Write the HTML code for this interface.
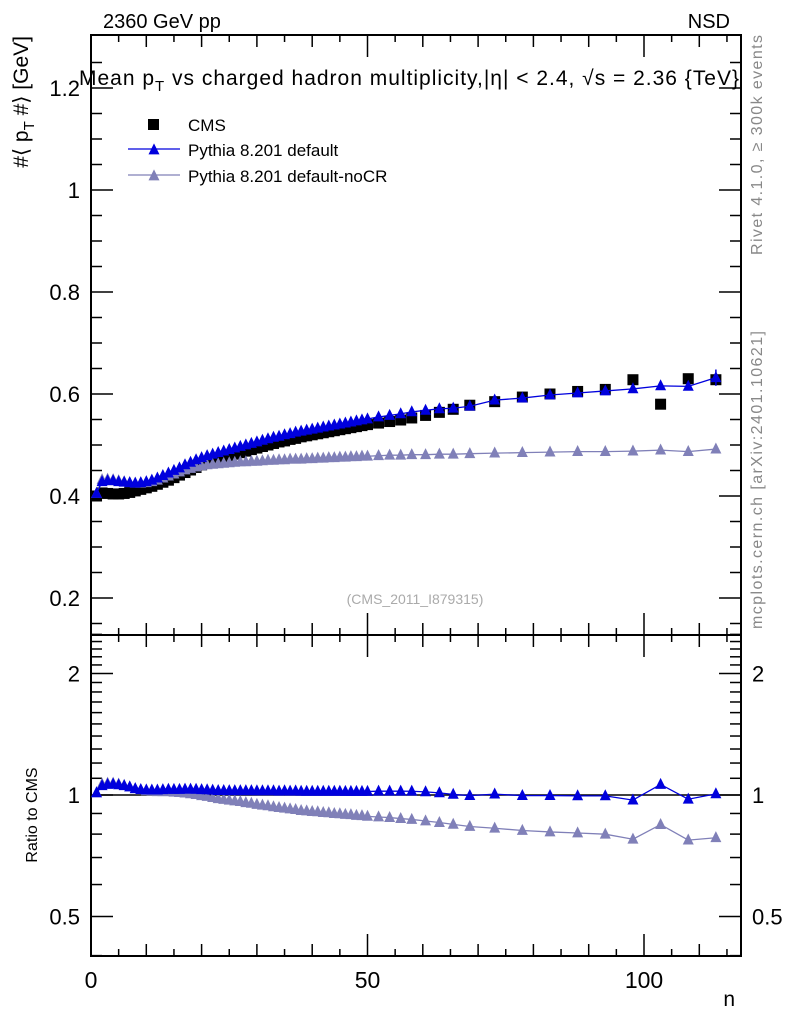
<!DOCTYPE html>
<html><head><meta charset="utf-8"><style>
body{margin:0;background:#fff;}
svg{display:block;font-family:"Liberation Sans",sans-serif;}
</style></head><body>
<svg id="c" width="786" height="1024" viewBox="0 0 786 1024"></svg>
<script>
const nVals=[1,2,3,4,5,6,7,8,9,10,11,12,13,14,15,16,17,18,19,20,21,22,23,24,25,26,27,28,29,30,31,32,33,34,35,36,37,38,39,40,41,42,43,44,45,46,47,48,49,50,52,54,56,58,60.5,63,65.5,68.5,73,78,83,88,93,98,103,108,113];
const cmsVals=[0.400,0.406,0.405,0.404,0.404,0.405,0.407,0.410,0.413,0.416,0.419,0.423,0.427,0.431,0.436,0.441,0.446,0.451,0.456,0.461,0.465,0.469,0.473,0.476,0.479,0.482,0.485,0.488,0.491,0.494,0.497,0.500,0.503,0.506,0.508,0.511,0.513,0.516,0.518,0.520,0.522,0.524,0.526,0.528,0.530,0.532,0.534,0.536,0.538,0.540,0.543,0.546,0.549,0.553,0.558,0.564,0.570,0.578,0.585,0.594,0.600,0.605,0.609,0.628,0.580,0.630,0.628];
const defVals=[0.405,0.428,0.430,0.430,0.428,0.427,0.426,0.425,0.426,0.428,0.431,0.435,0.440,0.445,0.450,0.455,0.461,0.466,0.471,0.475,0.479,0.482,0.485,0.488,0.491,0.494,0.497,0.500,0.503,0.506,0.509,0.512,0.515,0.517,0.520,0.522,0.525,0.527,0.529,0.531,0.533,0.535,0.537,0.539,0.541,0.543,0.545,0.547,0.549,0.551,0.555,0.558,0.561,0.565,0.568,0.571,0.572,0.576,0.588,0.592,0.598,0.602,0.606,0.610,0.616,0.615,0.632];
const nocrVals=[0.405,0.432,0.433,0.432,0.430,0.428,0.426,0.425,0.425,0.426,0.428,0.431,0.435,0.439,0.443,0.447,0.451,0.454,0.457,0.459,0.461,0.462,0.463,0.464,0.465,0.466,0.467,0.467,0.468,0.468,0.469,0.470,0.470,0.471,0.471,0.472,0.472,0.472,0.473,0.473,0.474,0.474,0.475,0.475,0.476,0.476,0.477,0.477,0.478,0.478,0.479,0.480,0.480,0.481,0.481,0.482,0.482,0.483,0.484,0.485,0.486,0.487,0.487,0.488,0.490,0.487,0.492];
const xTicks=[0,50,100];
const yTicks=[0.2,0.4,0.6,0.8,1,1.2];
const rTicks=[0.5,1,2];

const svg=document.getElementById('c');
const NS='http://www.w3.org/2000/svg';
const L=91,R=741,T=35,MB=635,RB=956;
const X=v=>L+v*5.53;
const Y=v=>496-(v-0.4)*510;
const YR=r=>795-Math.log2(r)*121.5;
function mk(t,a,p){const e=document.createElementNS(NS,t);for(const k in a)e.setAttribute(k,a[k]);(p||svg).appendChild(e);return e;}
function txt(s,x,y,sz,anchor,fill,extra){const e=mk('text',Object.assign({x:x,y:y,'font-size':sz,'text-anchor':anchor||'start',fill:fill||'#000'},extra||{}));e.textContent=s;return e;}

const f1=mk('rect',{x:L,y:T,width:R-L,height:MB-T,fill:'none',stroke:'#000','stroke-width':2});

const f2=mk('rect',{x:L,y:MB,width:R-L,height:RB-MB,fill:'none',stroke:'#000','stroke-width':2});


for(let v=0;v<=115;v+=5){const len=(v%50===0)?22:(v%10===0?12:7);const x=X(v);
 for(const [top,bot] of [[T,MB],[MB,RB]]){mk('line',{x1:x,y1:bot,x2:x,y2:bot-len,stroke:'#000','stroke-width':1.5});mk('line',{x1:x,y1:top,x2:x,y2:top+len,stroke:'#000','stroke-width':1.5});}}
xTicks.forEach(v=>{const e=txt(String(v),X(v),988,23,'middle');});
txt('n',735,1006,21,'end');

for(let v=0.15;v<=1.3;v+=0.05){const vv=Math.round(v*100)/100;const y=Y(vv);const maj=Math.abs(vv*5-Math.round(vv*5))<1e-6;const len=maj?22:11;
 mk('line',{x1:L,y1:y,x2:L+len,y2:y,stroke:'#000','stroke-width':1.5});mk('line',{x1:R,y1:y,x2:R-len,y2:y,stroke:'#000','stroke-width':1.5});}
yTicks.forEach(v=>{const e=txt(String(v),80,Y(v)+8,22,'end');});

[0.4,0.5,0.6,0.7,0.8,0.9,1,1.1,1.2,1.3,1.4,1.5,1.6,1.7,1.8,1.9,2,2.1,2.2,2.3,2.4,2.5].forEach(r=>{const y=YR(r);const maj=rTicks.includes(r);const len=maj?22:11;
 mk('line',{x1:L,y1:y,x2:L+len,y2:y,stroke:'#000','stroke-width':1.5});mk('line',{x1:R,y1:y,x2:R-len,y2:y,stroke:'#000','stroke-width':1.5});});
rTicks.forEach(r=>{const s=r===0.5?'0.5':String(r);txt(s,80,YR(r)+8,22,'end');txt(s,752,YR(r)+8,22,'start');});
mk('line',{x1:L,y1:YR(1),x2:R,y2:YR(1),stroke:'#000','stroke-width':1.5});

txt('2360 GeV pp',103,28,20);
txt('NSD',730,28,20,'end');
const ti=mk('text',{x:79,y:85,'font-size':21,textLength:660,lengthAdjust:'spacing'});ti.innerHTML='Mean p<tspan dy="6" font-size="15">T</tspan><tspan dy="-6"> vs charged hadron multiplicity,</tspan>|η| &lt; 2.4, √s = 2.36 {TeV}';

const yl=mk('text',{x:0,y:0,'font-size':21,'text-anchor':'end',transform:'translate(28,36) rotate(-90)'});yl.innerHTML='#⟨ p<tspan dy="6" font-size="15">T</tspan><tspan dy="-6"> #⟩ [GeV]</tspan>';

txt('Ratio to CMS',0,0,16,'middle','#000',{transform:'translate(37,815) rotate(-90)'});
txt('Rivet 4.1.0, ≥ 300k events',0,0,16,'middle','#888',{transform:'translate(762,145) rotate(-90)',textLength:220});
txt('mcplots.cern.ch [arXiv:2401.10621]',0,0,16,'middle','#888',{transform:'translate(762,480) rotate(-90)',textLength:298});
txt('(CMS_2011_I879315)',415,604,14,'middle','#aaa');

function tri(x,y,s,col,g){mk('polygon',{points:`${x},${y-s*0.6} ${x-s/2},${y+s*0.4} ${x+s/2},${y+s*0.4}`,fill:col},g);}
const colD='#0000dd',colN='#8080b8';
function series(vals,col,name){
 const g=mk('g',{});
 const pts=nVals.map((n,i)=>[X(n),Y(vals[i])]);
 mk('polyline',{points:pts.map(p=>p.join(',')).join(' '),fill:'none',stroke:col,'stroke-width':1.3},g);
 pts.forEach(p=>tri(p[0],p[1],11,col,g));
 const g2=mk('g',{});
 const rp=nVals.map((n,i)=>[X(n),YR(vals[i]/cmsVals[i])]);
 mk('polyline',{points:rp.map(p=>p.join(',')).join(' '),fill:'none',stroke:col,'stroke-width':1.3},g2);
 rp.forEach(p=>tri(p[0],p[1],11,col,g2));
}
const gc=mk('g',{});
nVals.forEach((n,i)=>mk('rect',{x:X(n)-5.5,y:Y(cmsVals[i])-5.5,width:11,height:11,fill:'#000'},gc));
series(nocrVals,colN,'pythia-default-nocr');
series(defVals,colD,'pythia-default');
mk('line',{x1:X(113),y1:Y(0.648),x2:X(113),y2:Y(0.616),stroke:colD,'stroke-width':1.5});

const lg=mk('g',{});
mk('rect',{x:148,y:119,width:11,height:11,fill:'#000'},lg);txt('CMS',188,131,17,'start','#000');
mk('line',{x1:128,y1:149,x2:180,y2:149,stroke:colD,'stroke-width':1.3},lg);tri(154,150,11,colD,lg);
txt('Pythia 8.201 default',188,156,17);
mk('line',{x1:128,y1:175,x2:180,y2:175,stroke:colN,'stroke-width':1.3},lg);tri(154,176,11,colN,lg);
txt('Pythia 8.201 default-noCR',188,182,17);
</script>
</body></html>
